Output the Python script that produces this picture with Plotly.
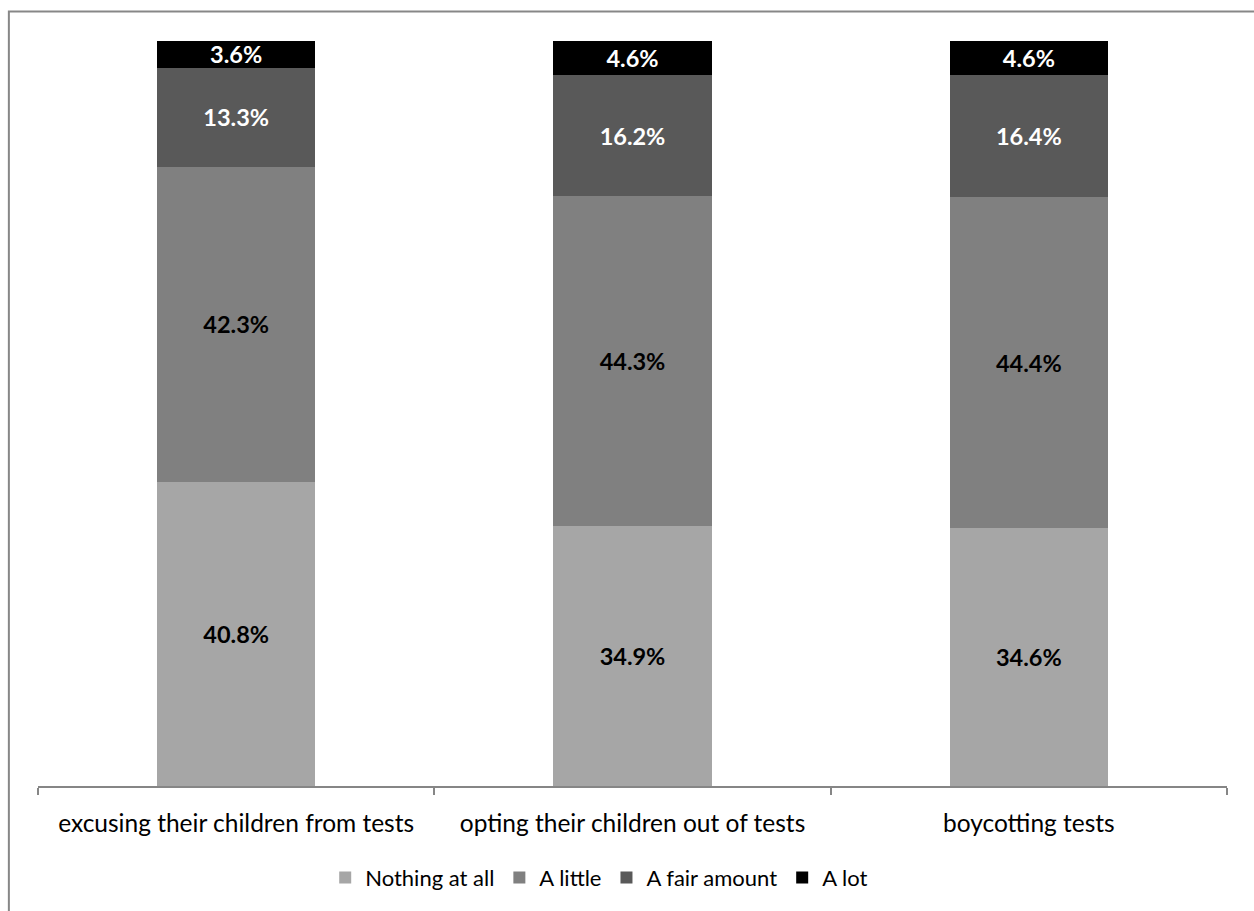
import plotly.graph_objects as go

categories = ["excusing their children from tests", "opting their children out of tests", "boycotting tests"]
series_names = ["Nothing at all", "A little", "A fair amount", "A lot"]
nothing_at_all = [40.8, 34.9, 34.6]
a_little = [42.3, 44.3, 44.4]
a_fair_amount = [13.3, 16.2, 16.4]
a_lot = [3.6, 4.6, 4.6]

series_values = [nothing_at_all, a_little, a_fair_amount, a_lot]
colors = ["#A6A6A6", "#808080", "#595959", "#000000"]
text_colors = ["#000000", "#000000", "#FFFFFF", "#FFFFFF"]

FONT = "Lato, 'Open Sans', sans-serif"

fig = go.Figure()
for name, vals, col, tcol in zip(series_names, series_values, colors, text_colors):
    fig.add_trace(go.Bar(
        x=categories, y=vals, name=name,
        marker=dict(color=col, line=dict(width=0)),
        texttemplate="%{y:.1f}%", textposition="inside",
        insidetextanchor="middle",
        textfont=dict(family=FONT, size=23.5, color=tcol, weight="bold"),
        constraintext="none",
    ))

fig.update_layout(
    barmode="stack",
    bargap=0.6,
    width=1254, height=911,
    margin=dict(l=38, r=27, t=41, b=122),
    paper_bgcolor="white", plot_bgcolor="white",
    font=dict(family=FONT, size=23.5, color="#000000"),
    uniformtext=dict(minsize=23, mode="show"),
    showlegend=True,
    legend=dict(orientation="h", x=0.472, xanchor="center", y=-0.123, yanchor="middle",
                font=dict(family=FONT, size=22), traceorder="normal",
                itemwidth=30, tracegroupgap=0),
    xaxis=dict(showline=True, linecolor="#868686", linewidth=1.5, ticks="outside",
               tickson="boundaries", ticklen=7, tickcolor="#868686", tickwidth=1.5,
               ticklabelstandoff=15,
               tickfont=dict(family=FONT, size=24.5, color="#000000"), showgrid=False),
    yaxis=dict(range=[0, 100], visible=False, showgrid=False),
    shapes=[dict(type="rect", xref="paper", yref="paper",
                 x0=-0.0245, x1=1.1, y0=-0.3, y1=1.0395,
                 line=dict(color="#878787", width=2), fillcolor="rgba(0,0,0,0)", layer="below")],
)

fig.write_html("out.html")
